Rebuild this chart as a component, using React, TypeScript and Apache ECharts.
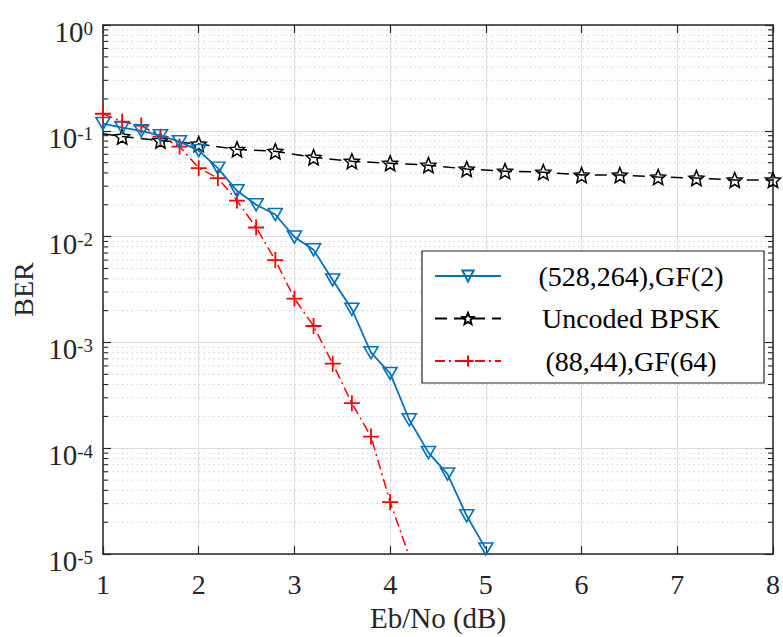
import React, { useEffect, useRef } from "react";
import * as echarts from "echarts";

const FONT = "'Liberation Serif', 'Times New Roman', serif";
const AXIS_COLOR = "#262626";
const BLUE = "#0072BD";
const RED = "#FF0000";

// (528,264),GF(2)
const blueX = [1.0, 1.2, 1.4, 1.6, 1.8, 2.0, 2.2, 2.4, 2.6, 2.8, 3.0, 3.2, 3.4, 3.6, 3.8, 4.0, 4.2, 4.4, 4.6, 4.8, 5.0];
const blueY = [0.117, 0.107, 0.1, 0.09, 0.079, 0.065, 0.0444, 0.0271, 0.02, 0.0162, 0.0099, 0.0075, 0.0039, 0.00206, 0.0008, 0.00051, 0.000186, 0.000091, 0.000057, 0.000023, 0.0000112];

// Uncoded BPSK (first point has no marker)
const blackX = [1.0, 1.2, 1.6, 2.0, 2.4, 2.8, 3.2, 3.6, 4.0, 4.4, 4.8, 5.2, 5.6, 6.0, 6.4, 6.8, 7.2, 7.6, 8.0];
const blackY = [0.094, 0.0883, 0.081, 0.075, 0.0668, 0.064, 0.0562, 0.0516, 0.0494, 0.0474, 0.0435, 0.0416, 0.0407, 0.0382, 0.0382, 0.0366, 0.0358, 0.0343, 0.0343];

// (88,44),GF(64)
const redX = [1.0, 1.2, 1.4, 1.6, 1.8, 2.0, 2.2, 2.4, 2.6, 2.8, 3.0, 3.2, 3.4, 3.6, 3.8, 4.0, 4.2];
const redY = [0.145, 0.122, 0.112, 0.088, 0.071, 0.0444, 0.0358, 0.0219, 0.0122, 0.006, 0.0026, 0.00143, 0.00063, 0.000267, 0.000129, 0.000031, 0.0000095];

const xTicks = [1, 2, 3, 4, 5, 6, 7, 8];
const decades = [0.00001, 0.0001, 0.001, 0.01, 0.1];
const minorMultipliers = [2, 3, 4, 5, 6, 7, 8, 9];

const STAR = "path://M50,0L63.2,31.8L97.6,34.5L71.4,57L79.4,90.5L50,72.5L20.6,90.5L28.6,57L2.4,34.5L36.8,31.8Z";
const PLUS = "path://M0,50L100,50M50,0L50,100";

export default function App() {
  const ref = useRef<HTMLDivElement>(null);

  useEffect(() => {
    if (!ref.current) return;
    const chart = echarts.init(ref.current, undefined, { renderer: "svg" });
    const xMin = xTicks[0];
    const xMax = xTicks[xTicks.length - 1];
    const minorY: number[] = [];
    decades.forEach((d) => minorMultipliers.forEach((m) => minorY.push(m * d)));

    const yLabelFormatter = (v: number) => {
      const e = Math.round(Math.log10(v));
      return `{base|10}{sup|${e}}`;
    };

    const option: any = {
      animation: false,
      backgroundColor: "#fff",
      grid: { left: 103, right: 6, top: 25, bottom: 76, containLabel: false },
      legend: {
        orient: "vertical",
        left: 422,
        top: 251,
        padding: [11, 8, 8, 12],
        itemGap: 14.5,
        itemWidth: 66,
        itemHeight: 14,
        backgroundColor: "#fff",
        borderColor: AXIS_COLOR,
        borderWidth: 1.2,
        borderRadius: 0,
        selectedMode: false,
        data: ["(528,264),GF(2)", "Uncoded BPSK", "(88,44),GF(64)"],
        formatter: (n: string) => `{t|${n}}`,
        textStyle: {
          fontFamily: FONT,
          fontSize: 28,
          color: "#000",
          rich: {
            t: { width: 250, align: "center", fontSize: 28, lineHeight: 30, fontFamily: FONT, color: "#000" },
          },
        },
      },
      xAxis: [
        {
          type: "value",
          min: xMin,
          max: xMax,
          interval: 1,
          name: "Eb/No (dB)",
          nameLocation: "middle",
          nameGap: 40,
          nameTextStyle: { fontFamily: FONT, fontSize: 29, color: AXIS_COLOR },
          axisLine: { show: true, onZero: false, lineStyle: { color: AXIS_COLOR, width: 1.5 } },
          axisTick: { show: true, inside: true, length: 8, lineStyle: { color: AXIS_COLOR, width: 1.2 } },
          axisLabel: { fontFamily: FONT, fontSize: 28, color: AXIS_COLOR, margin: 16 },
          splitLine: { show: true, lineStyle: { color: "#dcdcdc", width: 1 } },
        },
        {
          type: "value",
          position: "top",
          min: xMin,
          max: xMax,
          interval: 1,
          axisLine: { show: true, onZero: false, lineStyle: { color: AXIS_COLOR, width: 1.5 } },
          axisTick: { show: true, inside: true, length: 8, lineStyle: { color: AXIS_COLOR, width: 1.2 } },
          axisLabel: { show: false },
          splitLine: { show: false },
        },
      ],
      yAxis: [
        {
          type: "log",
          logBase: 10,
          min: 0.00001,
          max: 1,
          name: "BER",
          nameLocation: "middle",
          nameGap: 64,
          nameTextStyle: { fontFamily: FONT, fontSize: 28, color: AXIS_COLOR },
          axisLine: { show: true, onZero: false, lineStyle: { color: AXIS_COLOR, width: 1.5 } },
          axisTick: { show: true, inside: true, length: 8, lineStyle: { color: AXIS_COLOR, width: 1.2 } },
          axisLabel: {
            margin: 10,
            fontFamily: FONT,
            fontSize: 29,
            color: AXIS_COLOR,
            formatter: yLabelFormatter,
            rich: {
              base: { fontFamily: FONT, fontSize: 29, lineHeight: 29, color: AXIS_COLOR, padding: [14, 0, 0, 0] },
              sup: { fontFamily: FONT, fontSize: 19, lineHeight: 19, color: AXIS_COLOR, verticalAlign: "top", padding: [8, 0, 0, 0] },
            },
          },
          splitLine: { show: true, lineStyle: { color: "#dcdcdc", width: 1 } },
        },
        {
          type: "log",
          logBase: 10,
          min: 0.00001,
          max: 1,
          position: "right",
          axisLine: { show: true, onZero: false, lineStyle: { color: AXIS_COLOR, width: 1.5 } },
          axisTick: { show: true, inside: true, length: 8, lineStyle: { color: AXIS_COLOR, width: 1.2 } },
          axisLabel: { show: false },
          splitLine: { show: false },
        },
      ],
      series: [
        {
          name: "minor-grid",
          type: "custom",
          silent: true,
          z: 1,
          xAxisIndex: 0,
          yAxisIndex: 0,
          data: minorY.map((v) => [xMin, v]),
          renderItem: (params: any, api: any) => {
            const v = api.value(1);
            const p0 = api.coord([xMin, v]);
            const p1 = api.coord([xMax, v]);
            return {
              type: "group",
              children: [
                {
                  type: "line",
                  shape: { x1: p0[0], y1: p0[1], x2: p1[0], y2: p1[1] },
                  style: { stroke: "#c2c2c2", lineWidth: 1, lineDash: [1.2, 3.6] },
                },
                {
                  type: "line",
                  shape: { x1: p0[0], y1: p0[1], x2: p0[0] + 5, y2: p0[1] },
                  style: { stroke: AXIS_COLOR, lineWidth: 1.1 },
                },
                {
                  type: "line",
                  shape: { x1: p1[0] - 5, y1: p1[1], x2: p1[0], y2: p1[1] },
                  style: { stroke: AXIS_COLOR, lineWidth: 1.1 },
                },
              ],
            };
          },
        },
        {
          name: "(528,264),GF(2)",
          type: "line",
          z: 4,
          clip: true,
          color: BLUE,
          showAllSymbol: true,
          data: blueX.map((x, i) => [x, blueY[i]]),
          lineStyle: { color: BLUE, width: 1.8 },
          symbol: "triangle",
          symbolRotate: 180,
          symbolSize: [14, 12],
          itemStyle: { color: "rgba(255,255,255,0)", borderColor: BLUE, borderWidth: 1.6 },
        },
        {
          name: "Uncoded BPSK",
          type: "line",
          z: 3,
          clip: true,
          color: "#000",
          showAllSymbol: true,
          data: blackX.map((x, i) =>
            i === 0 ? { value: [x, blackY[i]], symbol: "none" } : [x, blackY[i]]
          ),
          lineStyle: { color: "#000", width: 1.5, type: [12, 7] },
          symbol: STAR,
          symbolSize: 15,
          itemStyle: { color: "rgba(255,255,255,0)", borderColor: "#000", borderWidth: 1.5 },
        },
        {
          name: "(88,44),GF(64)",
          type: "line",
          z: 3,
          clip: true,
          color: RED,
          showAllSymbol: true,
          data: redX.map((x, i) => [x, redY[i]]),
          lineStyle: { color: RED, width: 1.5, type: [10, 4, 2, 4] },
          symbol: PLUS,
          symbolSize: 16,
          itemStyle: { color: "rgba(255,255,255,0)", borderColor: RED, borderWidth: 1.8 },
        },
      ],
    };

    chart.setOption(option);
    return () => chart.dispose();
  }, []);

  return (
    <div
      ref={ref}
      style={{ position: "fixed", left: 0, top: 0, width: 783, height: 637, background: "#fff" }}
    />
  );
}
